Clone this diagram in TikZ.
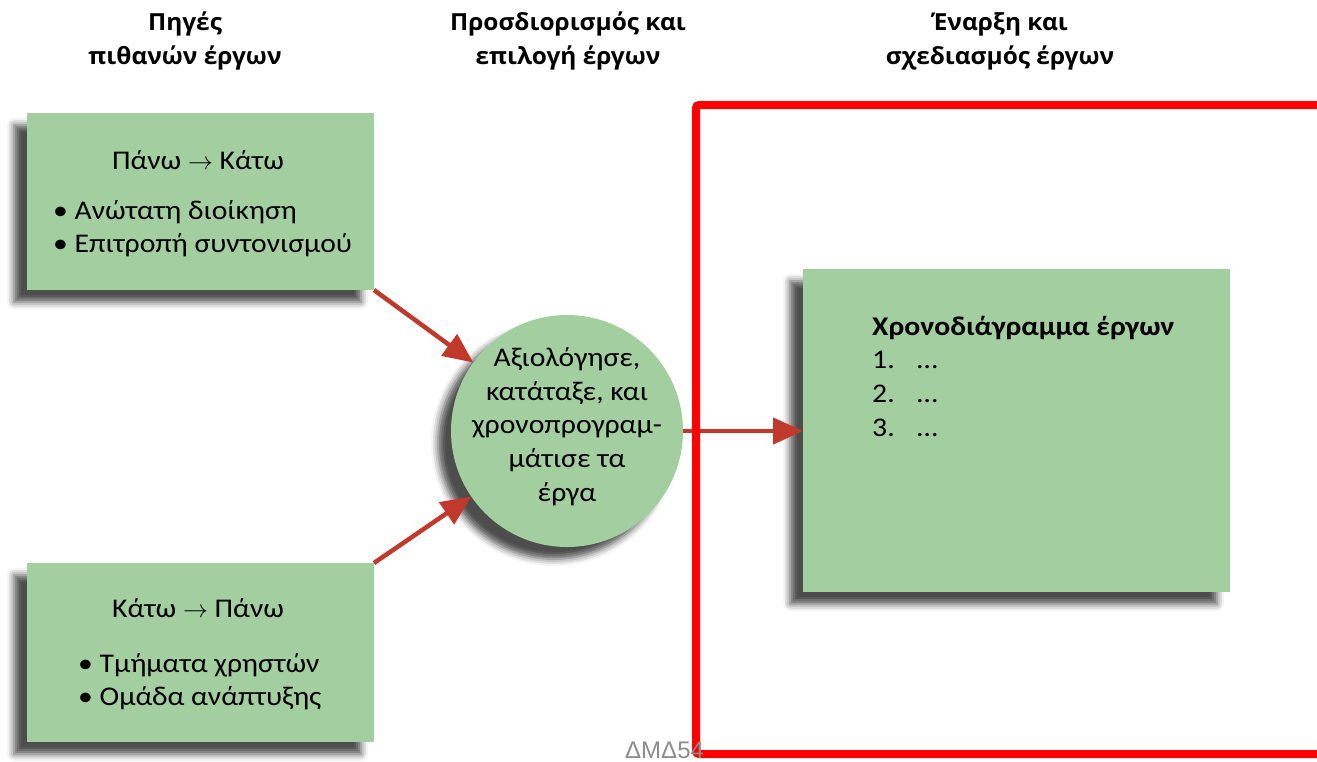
\documentclass[tikz,border=0pt]{standalone}
\usepackage{fontspec}
\setmainfont{Carlito}[FakeStretch=1.1]
\newfontfamily\headfont{Open Sans}[FakeStretch=1.04]
\newfontfamily\labfont{Liberation Sans}
\usetikzlibrary{arrows.meta,shadows.blur}
\definecolor{boxgreen}{RGB}{163,206,160}
\definecolor{arrred}{RGB}{192,57,43}
\definecolor{labgray}{RGB}{140,140,140}
\tikzset{
  box/.style={fill=boxgreen, draw=none, outer sep=0pt, inner sep=0pt,
    blur shadow={shadow xshift=-13pt, shadow yshift=-12pt, shadow blur radius=7pt, shadow opacity=70}},
  arr/.style={draw=arrred, line width=4.5pt, -{Triangle[length=30pt,width=26pt]}},
  txt/.style={font=\fontsize{27}{33}\selectfont, inner sep=0pt},
  hd/.style={font=\headfont\bfseries\fontsize{23.5}{34}\selectfont, inner sep=0pt, anchor=base},
}
\newcommand{\rarr}{{\fontsize{31}{33}\selectfont$\rightarrow$}}
\begin{document}
\begin{tikzpicture}[x=1pt,y=-1pt]
\useasboundingbox (0,0) rectangle (1317,761);
\clip (0,0) rectangle (1317,761);
% headers
\node[hd] (h1a) at (185,30) {Πηγές};
\node[hd] (h1b) at (185,64) {πιθανών έργων};
\node[hd] (h2a) at (568,30) {Προσδιορισμός και};
\node[hd] (h2b) at (568,64) {επιλογή έργων};
\node[hd] (h3a) at (1000,30) {Έναρξη και};
\node[hd] (h3b) at (1000,64) {σχεδιασμός έργων};
% boxes
\node[box, minimum width=347pt, minimum height=177pt] (tl) at (200.5,201.5) {};
\node[box, minimum width=347pt, minimum height=179pt] (bl) at (200.5,652.5) {};
\node[box, minimum width=427pt, minimum height=323pt] (rb) at (1016.5,430.5) {};
\node[box, circle, minimum size=232pt] (c) at (567,431) {};
\node[align=center, font=\fontsize{27}{33.6}\selectfont, inner sep=0pt, anchor=base] (ct) at (567,501)
  {Αξιολόγησε,\\κατάταξε, και\\χρονοπρογραμ-\\μάτισε τα\\έργα};
% texts in boxes
\node[txt, anchor=base] (t1) at (198,169) {Πάνω \rarr{} Κάτω};
\node[txt, anchor=base west] (t2) at (53,219) {•~Ανώτατη διοίκηση};
\node[txt, anchor=base west] (t3) at (53,252) {•~Επιτροπή συντονισμού};
\node[txt, anchor=base] (b1) at (198,617) {Κάτω \rarr{} Πάνω};
\node[txt, anchor=base west] (b2) at (78,672) {•~Τμήματα χρηστών};
\node[txt, anchor=base west] (b3) at (78,705) {•~Ομάδα ανάπτυξης};
\node[txt, anchor=base west, font=\bfseries\fontsize{27}{33}\selectfont] (r0) at (872,335) {Χρονοδιάγραμμα έργων};
\node[txt, anchor=base west] (r1) at (872,368) {1.};
\node[txt, anchor=base west] (r1d) at (917,368) {…};
\node[txt, anchor=base west] (r2) at (872,402) {2.};
\node[txt, anchor=base west] (r2d) at (917,402) {…};
\node[txt, anchor=base west] (r3) at (872,436) {3.};
\node[txt, anchor=base west] (r3d) at (917,436) {…};
% arrows
\draw[arr] (tl.south east) -- (c);
\draw[arr] (bl.north east) -- (c);
\draw[arr] (c.east) -- (rb.west |- c.east);
% red frame
\draw[red, line width=8pt, rounded corners=3pt] (1340,105) -- (696,105) -- (696,754) -- (1340,754);
\node[font=\labfont\fontsize{24}{28}\selectfont, text=labgray, inner sep=0pt, anchor=base west] (lab) at (625,758) {ΔΜΔ54};
\end{tikzpicture}
\end{document}
